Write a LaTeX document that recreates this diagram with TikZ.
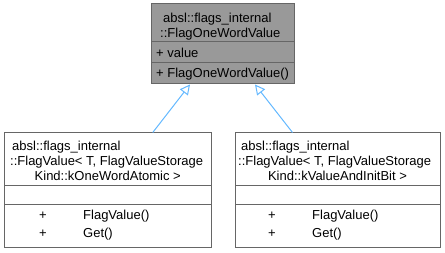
\documentclass[tikz,border=0pt]{standalone}
\usepackage{fontspec}
\setmainfont{Liberation Sans}
\usetikzlibrary{arrows.meta}
\definecolor{boxline}{HTML}{666666}
\definecolor{boxfill}{HTML}{999999}
\definecolor{inhline}{HTML}{63B8FF}
\tikzset{
  classbox/.style={draw=boxline, line width=1pt, inner sep=0pt, rectangle},
  sep/.style={draw=boxline, line width=1pt},
  txt/.style={inner sep=0pt, font=\fontsize{13pt}{15pt}\selectfont},
  inh/.style={draw=inhline, line width=1pt,
    -{Triangle[open, length=10pt, width=10pt, fill=white]}},
}
\begin{document}
\begin{tikzpicture}[x=1pt, y=-1pt]
\useasboundingbox (0,0) rectangle (445,253);

% base class
\node[classbox, fill=boxfill, minimum width=143pt, minimum height=80pt] (top) at (222.5,44) {};
\draw[sep] (151,42) -- (294,42);
\draw[sep] (151,63) -- (294,63);
\node[txt, anchor=base west] (t1) at (163,23) {absl::flags\_internal};
\node[txt, anchor=base west] (t2) at (160,38) {::FlagOneWordValue};
\node[txt, anchor=base west] (t3) at (156,57.5) {+ value};
\node[txt, anchor=base west] (t4) at (156,78) {+ FlagOneWordValue()};

% derived class, kOneWordAtomic
\node[classbox, fill=white, minimum width=206.5pt, minimum height=115pt] (lbox) at (107.75,190.5) {};
\draw[sep] (4.5,186) -- (211,186);
\draw[sep] (4.5,205) -- (211,205);
\node[txt, anchor=base west] (l1) at (12,151) {absl::flags\_internal};
\node[txt, anchor=base west] (l2) at (10,166) {::FlagValue< T, FlagValueStorage};
\node[txt, anchor=base] (l3) at (107.75,181) {Kind::kOneWordAtomic >};
\node[txt, anchor=base west] (l4) at (39,220) {+};
\node[txt, anchor=base west] (l5) at (83,220) {FlagValue()};
\node[txt, anchor=base west] (l6) at (39,238) {+};
\node[txt, anchor=base west] (l7) at (83,238) {Get()};

% derived class, kValueAndInitBit
\node[classbox, fill=white, minimum width=205pt, minimum height=115pt] (rbox) at (337.5,190.5) {};
\draw[sep] (235,186) -- (440,186);
\draw[sep] (235,205) -- (440,205);
\node[txt, anchor=base west] (r1) at (241,151) {absl::flags\_internal};
\node[txt, anchor=base west] (r2) at (238,166) {::FlagValue< T, FlagValueStorage};
\node[txt, anchor=base] (r3) at (337.5,181) {Kind::kValueAndInitBit >};
\node[txt, anchor=base west] (r4) at (268,220) {+};
\node[txt, anchor=base west] (r5) at (312,220) {FlagValue()};
\node[txt, anchor=base west] (r6) at (268,238) {+};
\node[txt, anchor=base west] (r7) at (312,238) {Get()};

% inheritance arrows
\draw[inh] ([xshift=45pt]lbox.north) -- ([xshift=-32.5pt]top.south);
\draw[inh] ([xshift=-45pt]rbox.north) -- ([xshift=32.5pt]top.south);
\end{tikzpicture}
\end{document}
